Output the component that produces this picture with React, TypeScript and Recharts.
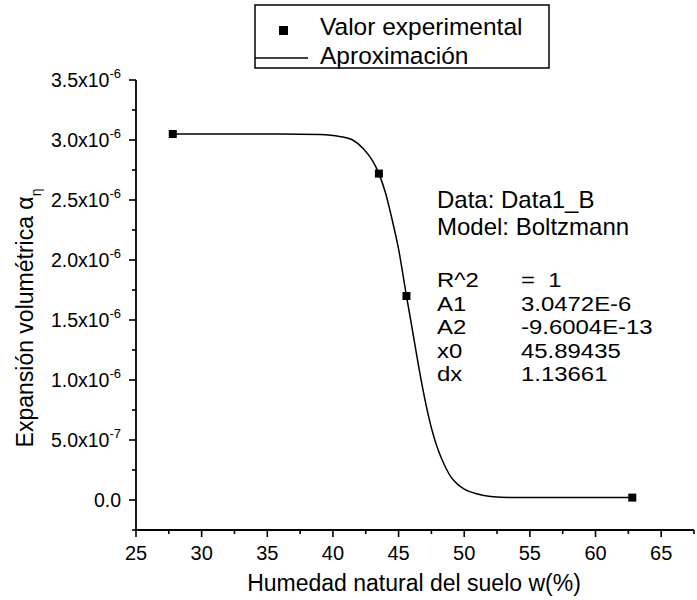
import React from 'react';
import { ComposedChart, Line, Scatter, XAxis, YAxis } from 'recharts';

// Experimental points
const expW = [27.8, 43.5, 45.6, 62.8];
const expAlpha = [3.05e-6, 2.72e-6, 1.7e-6, 0.02e-6];

// Fitted (Boltzmann) curve
const fitW = [27.8, 32, 36, 39, 40.5, 41.5, 42.3, 43, 43.5, 44, 44.5, 45, 45.6, 46, 46.5, 47, 47.5, 48, 48.5, 49, 49.5, 50, 51, 52, 54, 58, 62.8];
const fitAlpha = [3.05e-6, 3.05e-6, 3.05e-6, 3.045e-6, 3.03e-6, 3.0e-6, 2.93e-6, 2.83e-6, 2.72e-6, 2.56e-6, 2.34e-6, 2.09e-6, 1.7e-6, 1.45e-6, 1.13e-6, 0.84e-6, 0.6e-6, 0.42e-6, 0.29e-6, 0.19e-6, 0.13e-6, 0.09e-6, 0.05e-6, 0.03e-6, 0.02e-6, 0.02e-6, 0.02e-6];

// Axis ticks
const xTicks = [25, 27.5, 30, 32.5, 35, 37.5, 40, 42.5, 45, 47.5, 50, 52.5, 55, 57.5, 60, 62.5, 65, 67.5];
const xMajor = [25, 30, 35, 40, 45, 50, 55, 60, 65];
const yTicks = [-0.25e-6, 0, 0.25e-6, 0.5e-6, 0.75e-6, 1.0e-6, 1.25e-6, 1.5e-6, 1.75e-6, 2.0e-6, 2.25e-6, 2.5e-6, 2.75e-6, 3.0e-6, 3.25e-6, 3.5e-6];
const yMajor = [0, 0.5e-6, 1.0e-6, 1.5e-6, 2.0e-6, 2.5e-6, 3.0e-6, 3.5e-6];
const yMantissa = ['0.0', '5.0x10', '1.0x10', '1.5x10', '2.0x10', '2.5x10', '3.0x10', '3.5x10'];
const yExponent = ['', '-7', '-6', '-6', '-6', '-6', '-6', '-6'];

// Annotation
const noteHeader = ['Data: Data1_B', 'Model: Boltzmann'];
const noteNames = ['R^2', 'A1', 'A2', 'x0', 'dx'];
const noteValues = ['=\u00a0\u00a01', '3.0472E-6', '-9.6004E-13', '45.89435', '1.13661'];

const FONT = '"Liberation Sans", Arial, Helvetica, sans-serif';

const expData = expW.map((w, i) => ({ w, alpha: expAlpha[i] }));
const fitData = fitW.map((w, i) => ({ w, alpha: fitAlpha[i] }));

const XTick = (props: any) => {
  const { x, y, payload } = props;
  const v = payload.value;
  const major = xMajor.some((m) => Math.abs(m - v) < 1e-9);
  return (
    <g>
      <line x1={x} x2={x} y1={y} y2={y + (major ? 7 : 4)} stroke="#000" strokeWidth={1.6} />
      {major && (
        <text x={x} y={y + 30} textAnchor="middle" fontSize={20} fontFamily={FONT} fill="#000">
          {v}
        </text>
      )}
    </g>
  );
};

const YTick = (props: any) => {
  const { x, y, payload } = props;
  const v = payload.value;
  const idx = yMajor.findIndex((m) => Math.abs(m - v) < 1e-12);
  const major = idx >= 0;
  return (
    <g>
      <line x1={x} x2={x - (major ? 7 : 4)} y1={y} y2={y} stroke="#000" strokeWidth={1.6} />
      {major && (
        <text x={x - 15} y={y + 7} textAnchor="end" fontSize={19.5} fontFamily={FONT} fill="#000">
          {yMantissa[idx]}
          {yExponent[idx] && (
            <tspan dy={-9} fontSize={13}>
              {yExponent[idx]}
            </tspan>
          )}
        </text>
      )}
    </g>
  );
};

const SquareDot = (props: any) => {
  const { cx, cy } = props;
  if (cx == null || cy == null) return null;
  return <rect x={cx - 4} y={cy - 4} width={8} height={8} fill="#000" />;
};

export default function App() {
  return (
    <div style={{ position: 'absolute', left: 0, top: 0, width: 697, height: 600, background: '#fff' }}>
      <ComposedChart width={697} height={600} margin={{ top: 80, right: 3, bottom: 40, left: 76 }}>
        <XAxis
          type="number"
          dataKey="w"
          domain={[25, 67.5]}
          ticks={xTicks}
          interval={0}
          height={30}
          tickSize={0}
          tickMargin={0}
          tickLine={false}
          axisLine={{ stroke: '#000', strokeWidth: 1.8 }}
          tick={<XTick />}
          allowDataOverflow
        />
        <YAxis
          type="number"
          dataKey="alpha"
          domain={[-0.25e-6, 3.5e-6]}
          ticks={yTicks}
          interval={0}
          width={60}
          tickSize={0}
          tickMargin={0}
          tickLine={false}
          axisLine={{ stroke: '#000', strokeWidth: 1.8 }}
          tick={<YTick />}
          allowDataOverflow
        />
        <Line
          data={fitData}
          dataKey="alpha"
          type="monotone"
          stroke="#000"
          strokeWidth={1.5}
          dot={false}
          activeDot={false}
          isAnimationActive={false}
        />
        <Scatter data={expData} dataKey="alpha" fill="#000" shape={<SquareDot />} isAnimationActive={false} />
      </ComposedChart>
      <svg
        width={697}
        height={600}
        style={{ position: 'absolute', left: 0, top: 0, pointerEvents: 'none' }}
        fontFamily={FONT}
      >
        {/* Legend */}
        <rect x={255} y={5} width={294} height={63} fill="none" stroke="#000" strokeWidth={1.5} />
        <rect x={279} y={26} width={9} height={9} fill="#000" />
        <text x={320} y={35} fontSize={24.5} fill="#000">Valor experimental</text>
        <line x1={255} x2={308} y1={58} y2={58} stroke="#000" strokeWidth={1.5} />
        <text x={320} y={64} fontSize={24.5} fill="#000">Aproximación</text>

        {/* Annotation */}
        {noteHeader.map((t, i) => (
          <text key={t} x={437} y={208 + i * 27} fontSize={24} fill="#000">{t}</text>
        ))}
        {noteNames.map((t, i) => (
          <text key={t} transform={`translate(437 ${287 + i * 23.6}) scale(1.14 1)`} fontSize={21} fill="#000">{t}</text>
        ))}
        {noteValues.map((t, i) => (
          <text key={t} transform={`translate(521 ${287 + i * 23.6}) scale(1.14 1)`} fontSize={21} fill="#000">{t}</text>
        ))}

        {/* Axis titles */}
        <text x={414} y={591} textAnchor="middle" fontSize={23} fill="#000">
          Humedad natural del suelo w(%)
        </text>
        <text transform="translate(33,318) rotate(-90)" textAnchor="middle" fontSize={23} fill="#000">
          Expansión volumétrica α
          <tspan dy={8} fontSize={14}>η</tspan>
        </text>
      </svg>
    </div>
  );
}
